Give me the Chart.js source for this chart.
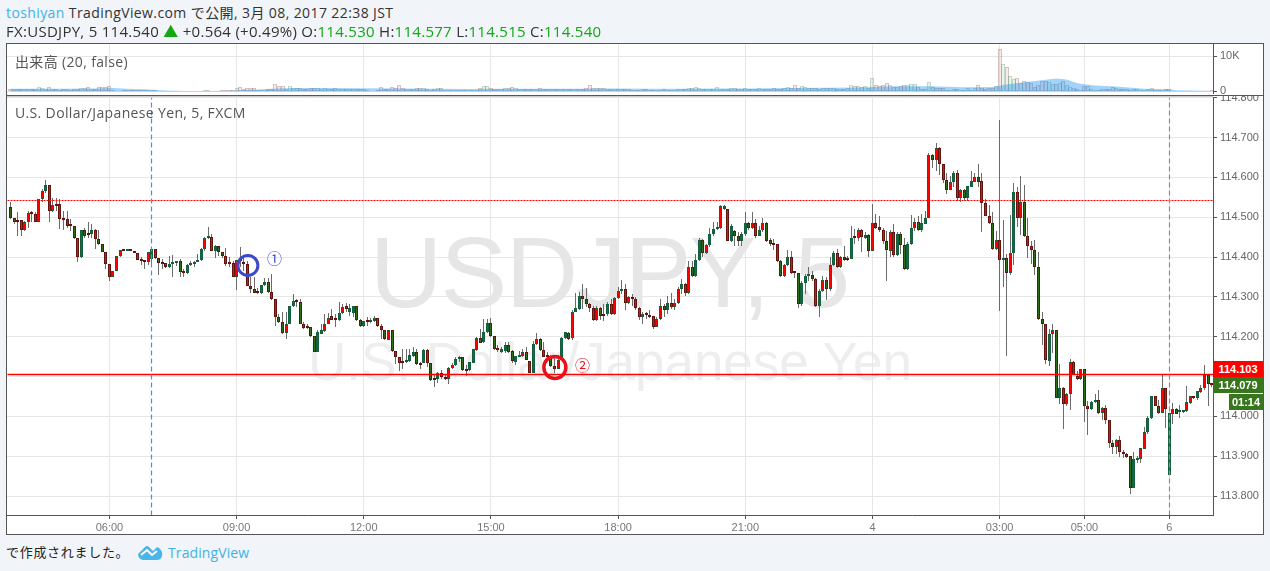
<!DOCTYPE html>
<html>
<head>
<meta charset="utf-8">
<script src="https://cdn.jsdelivr.net/npm/chart.js@4"></script>
<style>
  html, body { margin: 0; padding: 0; }
  body { width: 1270px; height: 571px; background: #f1f4f8; position: relative; overflow: hidden;
         font-family: "Open Sans", "Noto Sans CJK JP", sans-serif; color: #333; }
  .abs { position: absolute; white-space: nowrap; }
  #frame { left: 6px; top: 43px; width: 1256px; height: 490px; background: #fff; border: 1px solid #555; }
  #volBg { left: 7px; top: 44px; width: 1256px; height: 51px; background: #fff; }
  #sep { left: 7px; top: 95px; width: 1256px; height: 1px; background: #555; }
  #sep2 { left: 7px; top: 96px; width: 1206px; height: 1px; background: #ccc; }
  canvas { position: absolute; }
  #header1 { left: 6px; top: 4px; font-size: 14px; line-height: 18px; letter-spacing: .4px; }
  #header2 { left: 6px; top: 22px; font-size: 15px; line-height: 18px; letter-spacing: .28px; }
  .user, .brand { color: #3fb3e6; }
  .val { color: #12a812; }
  .pane { left: 15px; font-size: 14px; color: #555; letter-spacing: .35px; }
  .mark1 { font-family: "Noto Sans CJK JP"; font-size: 15px; }
  .wm1 { left: 370px; top: 215px; font: 100px "Liberation Sans"; color: #e6e6e6; letter-spacing: -1.6px; }
  .wm2 { left: 308px; top: 331px; font: 53px "Liberation Sans"; color: #eeeeee; }
  .box { height: 16px; line-height: 16px; font: bold 11px/16px "Liberation Sans"; color: #fff; text-align: center; }
  #footer { left: 6px; top: 542px; font-size: 13px; color: #222; font-family: "Noto Sans CJK JP"; letter-spacing: .7px; }
  #tv { left: 168px; top: 543px; font-size: 14px; letter-spacing: .1px; }
</style>
</head>
<body>
<div class="abs" id="frame"></div>
<div class="abs wm1">USDJPY, 5</div>
<div class="abs wm2">U.S. Dollar/Japanese Yen</div>
<canvas id="priceChart" width="1256" height="446" style="left:7px;top:88px"></canvas>
<div class="abs" id="volBg"></div>
<canvas id="volumeChart" width="1256" height="68" style="left:7px;top:35px"></canvas>
<div class="abs" id="sep"></div>
<div class="abs" id="sep2"></div>
<div class="abs" id="header1"><span class="user">toshiyan</span> TradingView.com で公開, 3月 08, 2017 22:38 JST</div>
<div class="abs" id="header2">FX:USDJPY, 5 114.540 <span class="val">▲</span> +0.564 (+0.49%) O:<span class="val">114.530</span> H:<span class="val">114.577</span> L:<span class="val">114.515</span> C:<span class="val">114.540</span></div>
<div class="abs pane" style="top:51px">出来高 (20, false)</div>
<div class="abs pane" style="top:103px">U.S. Dollar/Japanese Yen, 5, FXCM</div>
<div class="abs mark1" style="left:267px;top:247px;color:#3b48cc">①</div>
<div class="abs mark1" style="left:575px;top:354px;color:#e8101a">②</div>
<div class="abs box" style="left:1213px;top:361px;width:50px;background:#ff0000">114.103</div>
<div class="abs box" style="left:1213px;top:377px;width:50px;background:#38761d">114.079</div>
<div class="abs box" style="left:1229px;top:394px;width:34px;background:#38761d">01:14</div>
<div class="abs" id="footer">で作成されました。</div>
<svg class="abs" style="left:138px;top:545px" width="25" height="15" viewBox="0 0 25 15">
  <path d="M0 9 L7 2 Q9 0 11 2 L15 6 L18 3 Q20 1 22 4 Q25 7 24 11 Q23 15 19 15 L5 15 Q0 14 0 9 Z" fill="#4ab5e8"/>
  <path d="M3 10 L9 5 L14 10 L19 6" fill="none" stroke="#fff" stroke-width="2"/>
</svg>
<div class="abs brand" id="tv">TradingView</div>
<script>
const opens = [
  114.526,114.498,114.493,114.493,114.469,114.487,114.510,114.508,114.489,114.545,
  114.566,114.580,114.516,114.533,114.533,114.496,114.496,114.478,114.478,114.448,
  114.399,114.468,114.458,114.458,114.468,114.445,114.433,114.413,114.383,114.349,
  114.366,114.402,114.418,114.415,114.416,114.415,114.410,114.393,114.391,114.388,
  114.396,114.420,114.398,114.385,114.384,114.374,114.382,114.384,114.390,114.363,
  114.360,114.379,114.383,114.388,114.393,114.419,114.448,114.450,114.416,114.428,
  114.413,114.403,114.384,114.385,114.351,114.393,114.388,114.383,114.327,114.320,
  114.310,114.310,114.330,114.337,114.313,114.294,114.249,114.238,114.209,114.233,
  114.276,114.290,114.288,114.232,114.226,114.225,114.203,114.162,114.208,114.214,
  114.233,114.253,114.248,114.241,114.259,114.276,114.262,114.260,114.276,114.243,
  114.227,114.240,114.238,114.239,114.247,114.228,114.218,114.193,114.216,114.163,
  114.150,114.137,114.136,114.139,114.151,114.161,114.135,114.134,114.166,114.133,
  114.094,114.093,114.109,114.099,114.093,114.121,114.130,114.143,114.148,114.116,
  114.116,114.135,114.166,114.198,114.187,114.212,114.235,114.202,114.170,114.162,
  114.163,114.180,114.163,114.137,114.149,114.151,114.162,114.139,114.110,114.181,
  114.195,114.166,114.151,114.148,114.126,114.119,114.141,114.198,114.210,114.198,
  114.262,114.270,114.301,114.295,114.281,114.273,114.241,114.273,114.254,114.256,
  114.283,114.256,114.298,114.315,114.320,114.285,114.300,114.295,114.273,114.249,
  114.257,114.254,114.251,114.224,114.245,114.278,114.266,114.285,114.274,114.284,
  114.320,114.333,114.309,114.376,114.352,114.393,114.443,114.409,114.430,114.458,
  114.470,114.472,114.520,114.520,114.441,114.466,114.453,114.441,114.458,114.485,
  114.472,114.485,114.454,114.467,114.485,114.443,114.433,114.433,114.389,114.352,
  114.380,114.401,114.361,114.360,114.283,114.334,114.352,114.354,114.345,114.277,
  114.314,114.343,114.319,114.380,114.410,114.374,114.401,114.398,114.396,114.449,
  114.447,114.469,114.449,114.456,114.416,114.485,114.475,114.468,114.441,114.416,
  114.464,114.405,114.458,114.429,114.369,114.432,114.472,114.488,114.469,114.484,
  114.499,114.656,114.643,114.673,114.633,114.593,114.569,114.588,114.610,114.547,
  114.568,114.549,114.577,114.589,114.600,114.591,114.535,114.502,114.485,114.419,
  114.443,114.393,114.398,114.359,114.409,114.564,114.499,114.539,114.452,114.428,
  114.417,114.374,114.244,114.233,114.139,114.208,114.216,114.046,114.071,114.030,
  114.057,114.136,114.101,114.094,114.119,114.025,114.019,114.036,114.042,114.009,
  114.022,113.990,113.934,113.923,113.940,113.911,113.906,113.900,113.821,113.891,
  113.894,113.919,113.960,113.995,114.050,114.027,114.009,114.070,113.852,114.006,
  114.019,114.010,114.010,114.013,114.034,114.050,114.046,114.061,114.071,114.105,114.082
];
const closes = [
  114.497,114.487,114.487,114.469,114.488,114.510,114.508,114.489,114.545,114.566,
  114.580,114.516,114.530,114.529,114.495,114.494,114.478,114.477,114.447,114.399,
  114.468,114.454,114.455,114.468,114.445,114.433,114.413,114.383,114.349,114.366,
  114.403,114.418,114.415,114.417,114.415,114.409,114.393,114.390,114.388,114.413,
  114.420,114.397,114.384,114.383,114.374,114.383,114.385,114.389,114.362,114.360,
  114.381,114.383,114.388,114.393,114.420,114.448,114.450,114.416,114.428,114.412,
  114.403,114.383,114.382,114.349,114.393,114.389,114.382,114.327,114.320,114.310,
  114.309,114.330,114.337,114.312,114.294,114.249,114.237,114.209,114.233,114.276,
  114.289,114.288,114.231,114.223,114.223,114.203,114.162,114.212,114.216,114.233,
  114.248,114.243,114.241,114.260,114.274,114.270,114.273,114.276,114.241,114.227,
  114.239,114.238,114.243,114.246,114.227,114.216,114.194,114.216,114.163,114.149,
  114.135,114.134,114.141,114.153,114.161,114.131,114.129,114.166,114.134,114.091,
  114.091,114.109,114.099,114.095,114.121,114.130,114.143,114.148,114.116,114.114,
  114.136,114.168,114.198,114.185,114.212,114.235,114.202,114.169,114.166,114.170,
  114.180,114.162,114.139,114.151,114.153,114.162,114.141,114.110,114.181,114.195,
  114.166,114.150,114.148,114.126,114.119,114.141,114.197,114.211,114.195,114.263,
  114.271,114.301,114.294,114.281,114.273,114.241,114.273,114.253,114.251,114.283,
  114.256,114.298,114.314,114.320,114.285,114.299,114.295,114.273,114.249,114.256,
  114.254,114.249,114.224,114.245,114.278,114.268,114.285,114.274,114.285,114.320,
  114.333,114.309,114.376,114.353,114.393,114.443,114.409,114.430,114.458,114.471,
  114.473,114.528,114.528,114.441,114.479,114.452,114.441,114.458,114.485,114.472,
  114.485,114.454,114.468,114.485,114.441,114.433,114.431,114.389,114.353,114.380,
  114.401,114.359,114.359,114.281,114.335,114.353,114.354,114.344,114.277,114.316,
  114.343,114.319,114.381,114.410,114.376,114.401,114.393,114.392,114.448,114.447,
  114.468,114.451,114.456,114.416,114.485,114.474,114.467,114.441,114.418,114.464,
  114.405,114.458,114.429,114.369,114.433,114.473,114.488,114.469,114.485,114.499,
  114.655,114.643,114.673,114.633,114.593,114.569,114.588,114.610,114.547,114.568,
  114.549,114.578,114.590,114.600,114.589,114.535,114.502,114.485,114.419,114.443,
  114.393,114.398,114.359,114.409,114.564,114.499,114.539,114.452,114.428,114.417,
  114.374,114.244,114.233,114.141,114.208,114.216,114.046,114.071,114.030,114.057,
  114.136,114.105,114.094,114.119,114.025,114.019,114.036,114.042,114.009,114.021,
  113.990,113.934,113.923,113.940,113.911,113.906,113.899,113.821,113.892,113.894,
  113.920,113.960,113.995,114.050,114.027,114.009,114.070,114.019,114.009,114.019,
  114.007,114.013,114.015,114.035,114.050,114.046,114.063,114.071,114.105,114.082,114.079
];
const highs = [
  114.539,114.499,114.512,114.493,114.491,114.516,114.516,114.512,114.545,114.570,
  114.593,114.580,114.547,114.548,114.545,114.516,114.516,114.495,114.478,114.448,
  114.468,114.474,114.487,114.483,114.470,114.468,114.433,114.413,114.383,114.366,
  114.403,114.418,114.418,114.417,114.416,114.415,114.410,114.401,114.393,114.413,
  114.426,114.420,114.398,114.395,114.384,114.403,114.406,114.391,114.395,114.370,
  114.383,114.389,114.391,114.408,114.423,114.451,114.476,114.458,114.431,114.428,
  114.413,114.423,114.399,114.391,114.393,114.426,114.403,114.389,114.349,114.351,
  114.323,114.331,114.348,114.348,114.358,114.294,114.258,114.262,114.262,114.278,
  114.306,114.295,114.295,114.237,114.233,114.225,114.203,114.216,114.233,114.258,
  114.259,114.270,114.258,114.287,114.281,114.284,114.283,114.278,114.278,114.245,
  114.239,114.249,114.248,114.251,114.247,114.233,114.218,114.218,114.216,114.163,
  114.150,114.170,114.168,114.170,114.174,114.170,114.137,114.168,114.170,114.133,
  114.103,114.112,114.116,114.103,114.123,114.133,114.149,114.151,114.149,114.129,
  114.137,114.170,114.199,114.220,114.245,114.245,114.247,114.203,114.178,114.174,
  114.187,114.187,114.166,114.151,114.164,114.168,114.174,114.139,114.189,114.210,
  114.198,114.187,114.162,114.153,114.149,114.153,114.199,114.213,114.212,114.266,
  114.309,114.312,114.333,114.323,114.284,114.278,114.278,114.274,114.283,114.287,
  114.295,114.299,114.324,114.343,114.333,114.303,114.308,114.299,114.274,114.262,
  114.262,114.268,114.251,114.249,114.295,114.283,114.301,114.310,114.295,114.324,
  114.345,114.334,114.391,114.391,114.408,114.447,114.445,114.433,114.474,114.489,
  114.489,114.531,114.531,114.520,114.483,114.468,114.462,114.462,114.512,114.487,
  114.514,114.495,114.478,114.499,114.487,114.449,114.445,114.433,114.393,114.383,
  114.418,114.416,114.366,114.360,114.341,114.358,114.374,114.366,114.348,114.320,
  114.353,114.349,114.399,114.416,114.420,114.403,114.428,114.403,114.477,114.470,
  114.474,114.470,114.462,114.459,114.533,114.508,114.503,114.474,114.466,114.468,
  114.484,114.462,114.464,114.449,114.437,114.506,114.499,114.503,114.508,114.516,
  114.662,114.659,114.686,114.676,114.634,114.612,114.603,114.616,114.618,114.570,
  114.570,114.578,114.616,114.612,114.634,114.611,114.545,114.531,114.512,114.466,
  114.745,114.493,114.408,114.506,114.587,114.576,114.603,114.581,114.499,114.441,
  114.443,114.412,114.263,114.233,114.220,114.231,114.218,114.131,114.073,114.059,
  114.145,114.138,114.113,114.120,114.119,114.038,114.038,114.055,114.065,114.023,
  114.028,113.990,113.940,113.942,113.950,113.915,113.909,113.900,113.911,113.900,
  113.921,113.973,114.000,114.050,114.050,114.040,114.105,114.070,114.009,114.033,
  114.021,114.028,114.016,114.076,114.052,114.050,114.063,114.078,114.128,114.105,114.082
];
const lows = [
  114.495,114.483,114.453,114.453,114.466,114.473,114.487,114.487,114.487,114.537,
  114.562,114.487,114.514,114.516,114.470,114.468,114.474,114.466,114.445,114.387,
  114.398,114.449,114.449,114.449,114.420,114.431,114.412,114.370,114.341,114.349,
  114.365,114.399,114.415,114.415,114.415,114.409,114.393,114.380,114.369,114.380,
  114.374,114.396,114.354,114.370,114.373,114.373,114.351,114.378,114.351,114.351,
  114.358,114.378,114.374,114.387,114.391,114.416,114.445,114.416,114.398,114.403,
  114.398,114.377,114.374,114.349,114.318,114.374,114.366,114.327,114.309,114.309,
  114.308,114.306,114.328,114.309,114.293,114.226,114.234,114.208,114.195,114.231,
  114.274,114.274,114.231,114.220,114.220,114.199,114.162,114.162,114.206,114.212,
  114.231,114.241,114.224,114.239,114.258,114.262,114.251,114.249,114.239,114.224,
  114.224,114.228,114.234,114.237,114.224,114.195,114.193,114.191,114.162,114.131,
  114.114,114.118,114.133,114.137,114.148,114.129,114.120,114.133,114.124,114.089,
  114.073,114.083,114.095,114.091,114.081,114.118,114.126,114.137,114.114,114.101,
  114.115,114.133,114.164,114.183,114.184,114.209,114.199,114.166,114.162,114.160,
  114.160,114.160,114.133,114.129,114.148,114.149,114.141,114.108,114.108,114.178,
  114.164,114.149,114.141,114.123,114.108,114.118,114.141,114.195,114.193,114.193,
  114.261,114.268,114.270,114.274,114.262,114.239,114.239,114.241,114.239,114.251,
  114.254,114.255,114.295,114.308,114.266,114.283,114.278,114.266,114.241,114.233,
  114.245,114.248,114.220,114.224,114.241,114.249,114.258,114.270,114.266,114.283,
  114.308,114.303,114.306,114.349,114.349,114.391,114.399,114.408,114.424,114.454,
  114.468,114.470,114.518,114.441,114.439,114.428,114.428,114.428,114.454,114.468,
  114.470,114.449,114.452,114.464,114.437,114.428,114.418,114.387,114.351,114.349,
  114.378,114.358,114.348,114.273,114.278,114.308,114.341,114.341,114.274,114.249,
  114.312,114.291,114.316,114.378,114.373,114.373,114.391,114.389,114.394,114.433,
  114.441,114.412,114.445,114.399,114.414,114.470,114.464,114.433,114.341,114.399,
  114.399,114.402,114.408,114.368,114.368,114.429,114.466,114.466,114.464,114.483,
  114.498,114.623,114.616,114.606,114.587,114.559,114.568,114.576,114.541,114.539,
  114.541,114.541,114.576,114.588,114.576,114.464,114.502,114.483,114.418,114.418,
  114.264,114.326,114.151,114.356,114.381,114.476,114.456,114.451,114.398,114.383,
  114.354,114.243,114.178,114.131,114.126,114.158,114.045,114.031,113.969,114.026,
  114.017,114.103,114.092,114.092,113.986,113.952,114.017,114.034,114.006,113.990,
  113.980,113.921,113.906,113.905,113.898,113.895,113.895,113.806,113.821,113.884,
  113.884,113.917,113.956,113.993,114.026,114.006,114.008,113.970,113.852,113.981,
  114.006,113.996,114.009,114.011,114.030,114.044,114.040,114.059,114.067,114.026,114.074
];
const volumes = [
  650,700,600,650,700,650,600,700,1200,900,
  700,1200,700,600,500,600,650,550,700,700,
  900,900,1200,600,700,1300,1300,1200,1600,300,
  250,250,300,300,400,400,350,400,300,400,
  350,300,200,200,150,200,150,100,200,150,
  100,150,150,200,250,400,350,200,200,150,
  300,400,300,350,900,1300,700,900,900,850,
  500,500,450,650,650,2000,1600,1600,800,1600,
  1100,1000,900,700,800,900,1000,900,800,900,
  750,700,1000,800,700,650,600,650,600,700,
  650,350,200,100,300,1300,600,600,1200,900,
  1800,900,800,800,600,850,900,900,650,500,
  600,900,850,500,450,550,500,550,500,550,
  500,550,550,900,1500,1500,1000,750,700,800,
  900,900,1150,900,800,650,600,650,600,700,
  900,800,700,750,700,650,700,650,700,800,
  650,600,700,900,1800,1000,1100,1000,900,750,
  750,700,750,650,700,800,500,550,450,700,
  750,550,550,500,500,650,550,500,550,750,
  800,750,900,900,1200,1100,800,750,800,800,
  1200,800,650,750,900,850,750,800,850,750,
  800,700,850,750,750,700,850,750,800,850,
  1200,1100,1800,1000,1600,1300,1000,1100,1100,750,
  1000,950,950,850,800,800,800,850,1800,1500,
  1600,1400,1500,1000,3700,1700,1600,1700,2300,1800,
  1300,1400,1500,1700,1800,2000,2000,1200,650,700,
  2600,1400,900,900,900,500,300,650,650,300,
  550,900,500,900,1900,900,750,900,1100,1600,
  12200,7700,6900,4400,3500,3700,2300,3000,2600,2500,
  1400,1900,3000,3000,2800,2000,2000,2300,3000,1900,
  1400,1100,650,450,1600,1500,650,350,350,650,
  650,650,1300,900,750,650,650,450,750,650,
  350,550,650,900,350,550,550,650,650,200,
  150,150,100,150,120,100,120,150,200,200,300
];
const maBars = [0,8,16,24,29,33,38,44,50,56,62,68,74,80,90,100,110,120,130,140,150,160,170,180,190,200,210,220,230,240,250,260,270,278,281,285,290,296,299,302,307,313,321,328,330,338,340];
const maValues = [800,800,800,850,950,750,600,300,130,150,220,450,750,1000,1000,900,850,800,700,800,800,800,850,750,750,850,850,950,1050,1100,1500,1500,1200,1300,1800,2400,3000,3700,3400,2300,1700,1400,750,650,370,200,200];

const xTickBars = [28,64,100,136,172,208,244,280,304,328];
const xTickLabels = ["06:00","09:00","12:00","15:00","18:00","21:00","4","03:00","05:00","6"];
const priceTicks = [114.8,114.7,114.6,114.5,114.4,114.3,114.2,114.1,114.0,113.9,113.8];
const volumeTicks = [0,10000];
const volumeTickLabels = ["0","10K"];
const sessionBars = [40,328];
const resistance = 114.542;
const support = 114.105;
const markerBars = [67.2,154.1];
const markerPrices = [114.379,114.123];

const xMin = -0.99, xMax = 340.4;
const yMin = 113.7524, yMax = 114.8003;
const barIdx = opens.map((_, i) => i);
const isUp = (i) => closes[i] >= opens[i];

// snap bars and guide lines to whole pixels, TradingView draws them crisp
const snapMarks = {
  id: "snapMarks",
  afterDatasetsUpdate(chart) {
    chart.data.datasets.forEach((ds, i) => {
      const meta = chart.getDatasetMeta(i);
      if (meta.type === "bar") {
        meta.data.forEach((el) => {
          el.x = ds.barThickness % 2 ? Math.floor(el.x) + 0.5 : Math.round(el.x);
          el.y = Math.round(el.y);
          el.base = Math.round(el.base);
          if (ds.minBody && Math.abs(el.y - el.base) < ds.minBody) el.y = el.base - ds.minBody;
        });
      } else if (ds.guide) {
        meta.data.forEach((el) => {
          el.x = Math.floor(el.x) + 0.5;
          el.y = Math.floor(el.y) + 0.5;
        });
      }
    });
  },
};

const tickFont = { family: "Liberation Sans", size: 11 };
const gridColor = "#e6e6e6";
const axisColor = "#555";

function xScale(showLabels) {
  return {
    type: "linear",
    min: xMin,
    max: xMax,
    offset: false,
    afterBuildTicks: (scale) => { scale.ticks = xTickBars.map((v) => ({ value: v })); },
    afterFit: (scale) => { scale.height = showLabels ? 19 : 0; },
    grid: { offset: false, color: gridColor, tickColor: axisColor, tickLength: 4, drawTicks: showLabels },
    border: { display: showLabels, color: axisColor },
    ticks: {
      display: showLabels, autoSkip: false, maxRotation: 0, padding: 2, color: "#777", font: tickFont,
      callback: (v) => xTickLabels[xTickBars.indexOf(v)],
    },
  };
}

function yScale(min, max, ticks, label) {
  return {
    position: "right",
    min,
    max,
    afterBuildTicks: (scale) => { scale.ticks = ticks.map((v) => ({ value: v })); },
    afterFit: (scale) => { scale.width = 50; },
    grid: { color: gridColor, tickColor: axisColor, tickLength: 4 },
    border: { display: true, color: axisColor },
    ticks: { autoSkip: false, padding: 3, color: "#666", font: tickFont, callback: label },
  };
}

const baseOptions = {
  responsive: false,
  animation: false,
  devicePixelRatio: 1,
  plugins: { legend: { display: false }, tooltip: { enabled: false } },
};

function guideLine(label, color, dash, width, points) {
  return { type: "line", label, order: 2, guide: true, pointRadius: 0, borderWidth: width, borderColor: color, borderDash: dash, data: points };
}

function markerPoint(label, color, radius, width, bar, price) {
  return {
    type: "line", label, order: 1, showLine: false, pointStyle: "circle", pointRadius: radius,
    pointBorderWidth: width, pointBackgroundColor: "transparent", pointBorderColor: color,
    data: [{ x: bar, y: price }],
  };
}

new Chart(document.getElementById("priceChart"), {
  type: "bar",
  plugins: [snapMarks],
  data: {
    datasets: [
      {
        label: "wicks", order: 4, grouped: false, barThickness: 1, inflateAmount: 0,
        backgroundColor: "#6b6b6b", borderWidth: 0,
        data: barIdx.map((i) => ({ x: i, y: [lows[i], highs[i]] })),
      },
      {
        label: "bodies", order: 3, grouped: false, barThickness: 3, inflateAmount: 0, minBody: 2,
        borderWidth: 1, borderSkipped: false,
        backgroundColor: barIdx.map((i) => (isUp(i) ? "#ff0000" : "#2f6d18")),
        borderColor: barIdx.map((i) => (isUp(i) ? "#14603e" : "#64120e")),
        data: barIdx.map((i) => ({ x: i, y: [opens[i], closes[i]] })),
      },
      guideLine("session 1", "#4a8fe8", [5, 3], 1.2, [{ x: sessionBars[0], y: yMin }, { x: sessionBars[0], y: yMax }]),
      guideLine("session 2", "#7f8fa3", [5, 3], 1.2, [{ x: sessionBars[1], y: yMin }, { x: sessionBars[1], y: yMax }]),
      guideLine("resistance", "#ff0000", [2, 1], 1.2, [{ x: xMin, y: resistance }, { x: xMax, y: resistance }]),
      guideLine("support", "#ff0000", [], 1.4, [{ x: xMin, y: support }, { x: xMax, y: support }]),
      markerPoint("marker 1", "#3b48cc", 10, 3, markerBars[0], markerPrices[0]),
      markerPoint("marker 2", "#e8101a", 11, 3.5, markerBars[1], markerPrices[1]),
    ],
  },
  options: {
    ...baseOptions,
    layout: { autoPadding: false, padding: 0 },
    scales: {
      x: xScale(true),
      y: yScale(yMin, yMax, priceTicks, (v) => v.toFixed(3)),
    },
  },
});

new Chart(document.getElementById("volumeChart"), {
  type: "bar",
  plugins: [snapMarks],
  data: {
    datasets: [
      {
        label: "volume", order: 2, grouped: false, barThickness: 4, inflateAmount: 0, borderWidth: 1, borderSkipped: false,
        backgroundColor: barIdx.map((i) => (isUp(i) ? "rgba(110,200,130,.18)" : "rgba(235,130,130,.18)")),
        borderColor: barIdx.map((i) => (isUp(i) ? "rgba(80,140,100,.35)" : "rgba(140,80,80,.35)")),
        data: barIdx.map((i) => ({ x: i, y: volumes[i] })),
      },
      {
        type: "line", label: "volume ma", order: 1, fill: "origin", pointRadius: 0, borderWidth: 0,
        backgroundColor: "rgba(33,150,243,.42)",
        data: maBars.map((b, i) => ({ x: b, y: maValues[i] })),
      },
    ],
  },
  options: {
    ...baseOptions,
    layout: { autoPadding: false, padding: 0 },
    scales: {
      x: xScale(false),
      y: yScale(-555, 13333, volumeTicks, (v) => volumeTickLabels[volumeTicks.indexOf(v)]),
    },
  },
});
</script>
</body>
</html>
